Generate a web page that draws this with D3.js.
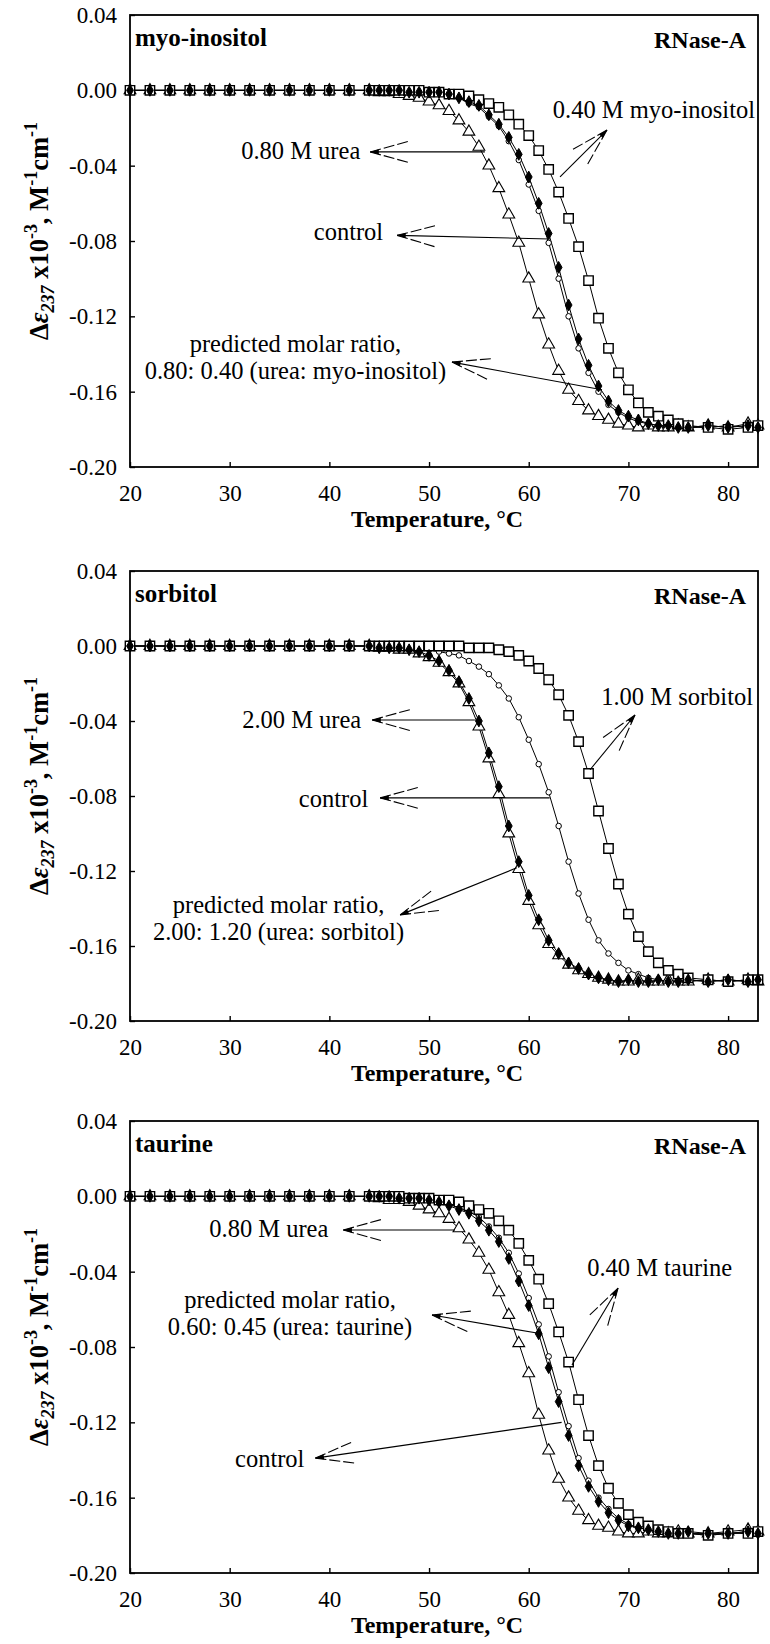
<!DOCTYPE html>
<html><head><meta charset="utf-8">
<script src="https://cdn.jsdelivr.net/npm/d3@7"></script>
<style>
body{margin:0;background:#fff}
svg{display:block}
text{font-family:"Liberation Serif","Times New Roman",serif;fill:#000}
</style>
</head><body>
<svg id="chart" width="770" height="1644"></svg>
<script>
// ---------- data ----------
const temps = [20,22,24,26,28,30,32,34,36,38,40,42,44,
  45,46,47,48,49,50,51,52,53,54,55,56,57,58,59,60,61,62,63,64,65,66,67,68,69,70,71,72,73,74,75,76,
  78,80,82,83];

// panel 1: myo-inositol
const myoControl = [0,0,0,0,0,0,0,0,0,0,0,0,0,
  0.000,0.000,-0.001,-0.001,-0.001,-0.001,-0.002,-0.003,-0.004,-0.007,-0.009,-0.014,-0.019,-0.027,-0.037,-0.050,-0.064,-0.081,-0.100,-0.120,-0.137,-0.150,-0.160,-0.167,-0.171,-0.174,-0.176,-0.177,-0.178,-0.179,-0.178,-0.179,
  -0.179,-0.178,-0.179,-0.178];
const myoUrea = [0,0,0,0,0,0,0,0,0,0,0,0,0,
  -0.001,-0.001,-0.002,-0.003,-0.004,-0.006,-0.008,-0.011,-0.016,-0.022,-0.030,-0.040,-0.052,-0.066,-0.081,-0.100,-0.119,-0.135,-0.149,-0.159,-0.165,-0.170,-0.173,-0.175,-0.177,-0.178,-0.179,-0.178,-0.179,-0.179,-0.178,-0.179,
  -0.178,-0.179,-0.177,-0.178];
const myoOsmolyte = [0,0,0,0,0,0,0,0,0,0,0,0,0,
  0.000,0.000,0.000,0.000,0.000,-0.001,-0.001,-0.002,-0.002,-0.003,-0.005,-0.007,-0.009,-0.013,-0.018,-0.024,-0.032,-0.042,-0.054,-0.068,-0.083,-0.101,-0.121,-0.137,-0.150,-0.159,-0.166,-0.171,-0.173,-0.175,-0.177,-0.178,
  -0.179,-0.180,-0.179,-0.178];
const myoPredicted = [0,0,0,0,0,0,0,0,0,0,0,0,0,
  0.000,0.000,0.000,-0.001,-0.001,-0.001,-0.001,-0.002,-0.004,-0.006,-0.008,-0.013,-0.018,-0.025,-0.034,-0.046,-0.060,-0.076,-0.094,-0.114,-0.132,-0.146,-0.157,-0.165,-0.170,-0.173,-0.175,-0.177,-0.178,-0.178,-0.179,-0.179,
  -0.178,-0.179,-0.178,-0.179];

// panel 2: sorbitol
const sorControl = [0,0,0,0,0,0,0,0,0,0,0,0,0,
  0.000,0.000,-0.001,-0.001,-0.001,-0.002,-0.003,-0.004,-0.005,-0.008,-0.011,-0.015,-0.021,-0.028,-0.038,-0.050,-0.063,-0.078,-0.096,-0.115,-0.132,-0.146,-0.157,-0.164,-0.169,-0.173,-0.175,-0.177,-0.178,-0.179,-0.179,-0.178,
  -0.179,-0.178,-0.179,-0.178];
const sorUrea = [0,0,0,0,0,0,0,0,0,0,0,0,0,
  -0.001,-0.001,-0.002,-0.002,-0.004,-0.006,-0.009,-0.014,-0.020,-0.030,-0.043,-0.060,-0.079,-0.100,-0.119,-0.136,-0.149,-0.159,-0.165,-0.170,-0.173,-0.175,-0.177,-0.178,-0.179,-0.179,-0.178,-0.179,-0.179,-0.178,-0.179,-0.179,
  -0.178,-0.179,-0.178,-0.179];
const sorOsmolyte = [0,0,0,0,0,0,0,0,0,0,0,0,0,
  0.000,0.000,0.000,0.000,0.000,0.000,0.000,0.000,0.000,-0.001,-0.001,-0.001,-0.002,-0.003,-0.005,-0.008,-0.012,-0.018,-0.026,-0.037,-0.051,-0.068,-0.088,-0.108,-0.127,-0.143,-0.155,-0.163,-0.169,-0.173,-0.175,-0.177,
  -0.178,-0.179,-0.178,-0.178];
const sorPredicted = [0,0,0,0,0,0,0,0,0,0,0,0,0,
  -0.001,-0.001,-0.001,-0.002,-0.003,-0.005,-0.008,-0.013,-0.019,-0.028,-0.040,-0.057,-0.075,-0.096,-0.115,-0.133,-0.146,-0.157,-0.164,-0.169,-0.172,-0.175,-0.177,-0.178,-0.179,-0.178,-0.179,-0.179,-0.178,-0.179,-0.179,-0.178,
  -0.179,-0.178,-0.179,-0.178];

// panel 3: taurine
const tauControl = [0,0,0,0,0,0,0,0,0,0,0,0,0,
  0.000,0.000,-0.001,-0.001,-0.001,-0.002,-0.003,-0.004,-0.006,-0.008,-0.011,-0.016,-0.022,-0.030,-0.041,-0.054,-0.068,-0.085,-0.104,-0.122,-0.139,-0.151,-0.160,-0.166,-0.171,-0.174,-0.176,-0.177,-0.178,-0.179,-0.178,-0.179,
  -0.180,-0.179,-0.178,-0.179];
const tauUrea = [0,0,0,0,0,0,0,0,0,0,0,0,0,
  -0.001,-0.002,-0.002,-0.003,-0.005,-0.007,-0.009,-0.012,-0.017,-0.023,-0.030,-0.039,-0.051,-0.063,-0.078,-0.094,-0.116,-0.135,-0.150,-0.160,-0.167,-0.172,-0.175,-0.176,-0.178,-0.179,-0.179,-0.178,-0.179,-0.179,-0.178,-0.179,
  -0.179,-0.178,-0.177,-0.178];
const tauOsmolyte = [0,0,0,0,0,0,0,0,0,0,0,0,0,
  0.000,0.000,0.000,-0.001,-0.001,-0.001,-0.002,-0.002,-0.003,-0.005,-0.007,-0.009,-0.013,-0.018,-0.025,-0.034,-0.044,-0.057,-0.072,-0.088,-0.108,-0.127,-0.143,-0.155,-0.163,-0.169,-0.173,-0.175,-0.177,-0.178,-0.179,-0.179,
  -0.180,-0.179,-0.179,-0.178];
const tauPredicted = [0,0,0,0,0,0,0,0,0,0,0,0,0,
  0.000,0.000,-0.001,-0.001,-0.001,-0.002,-0.003,-0.005,-0.007,-0.009,-0.013,-0.018,-0.024,-0.033,-0.045,-0.058,-0.073,-0.091,-0.109,-0.127,-0.143,-0.154,-0.162,-0.168,-0.172,-0.175,-0.176,-0.177,-0.178,-0.179,-0.179,-0.178,
  -0.179,-0.179,-0.178,-0.179];

const xTicks = [20,30,40,50,60,70,80];
const yTicks = [0.04,0.00,-0.04,-0.08,-0.12,-0.16,-0.20];
const panelNames = ["myo-inositol","sorbitol","taurine"];
const proteinName = "RNase-A";
const xTitle = "Temperature, \u00B0C";

// annotations: text lines, text position (data units), arrow tip/tail (data units)
const annotations = [
  [
    {lines:["0.80 M urea"], anchor:"end", at:[43.1,-0.0365], tip:[44.1,-0.0327], tail:[55.6,-0.0327]},
    {lines:["control"], anchor:"end", at:[45.4,-0.0795], tip:[46.8,-0.0770], tail:[62.1,-0.0789]},
    {lines:["0.40 M myo-inositol"], anchor:"end", at:[82.7,-0.0147], tip:[67.85,-0.0211], tail:[63.14,-0.0460]},
    {lines:["predicted molar ratio,","0.80: 0.40 (urea: myo-inositol)"], anchor:"middle", at:[36.6,-0.1390], tip:[52.3,-0.1443], tail:[67.35,-0.1590]}
  ],
  [
    {lines:["2.00 M urea"], anchor:"end", at:[43.2,-0.0437], tip:[44.3,-0.0395], tail:[54.6,-0.0395]},
    {lines:["control"], anchor:"end", at:[43.9,-0.0858], tip:[45.1,-0.0810], tail:[62.1,-0.0810]},
    {lines:["1.00 M sorbitol"], anchor:"end", at:[82.5,-0.0314], tip:[70.66,-0.0368], tail:[66.15,-0.0660]},
    {lines:["predicted molar ratio,","2.00: 1.20 (urea: sorbitol)"], anchor:"middle", at:[34.9,-0.1423], tip:[47.1,-0.1434], tail:[58.8,-0.1183]}
  ],
  [
    {lines:["0.80 M urea"], anchor:"end", at:[39.9,-0.0216], tip:[41.4,-0.0179], tail:[52.6,-0.0179]},
    {lines:["predicted molar ratio,","0.60: 0.45 (urea: taurine)"], anchor:"middle", at:[36.05,-0.0593], tip:[50.3,-0.0630], tail:[60.83,-0.0726]},
    {lines:["0.40 M taurine"], anchor:"end", at:[80.4,-0.0423], tip:[68.96,-0.0487], tail:[64.34,-0.0896]},
    {lines:["control"], anchor:"end", at:[37.5,-0.1437], tip:[38.6,-0.1390], tail:[63.3,-0.1200]}
  ]
];

// ---------- layout ----------
const panelTops = [15, 571, 1121];
const panelHeights = [452, 450, 452];
const left = 130, right = 758;

const svg = d3.select("#chart");
const seriesSets = [
  [myoControl, myoUrea, myoOsmolyte, myoPredicted],
  [sorControl, sorUrea, sorOsmolyte, sorPredicted],
  [tauControl, tauUrea, tauOsmolyte, tauPredicted]
];
const markerStyles = [
  {type:d3.symbolCircle, size:24, fill:"#fff", sw:1},
  {type:d3.symbolTriangle, size:60, fill:"#fff", sw:1.1},
  {type:d3.symbolSquare, size:88, fill:"#fff", sw:1.4},
  {type:d3.symbolDiamond, size:40, fill:"#000", sw:1}
];

panelTops.forEach((top, i) => {
  const h = panelHeights[i];
  const x = d3.scaleLinear().domain([20,83]).range([left,right]);
  const y = d3.scaleLinear().domain([-0.20,0.04]).range([top+h, top]);
  const g = svg.append("g");

  // axes
  const ya = g.append("g").attr("transform",`translate(${left},0)`)
    .call(d3.axisLeft(y).tickValues(yTicks).tickFormat(d=>d.toFixed(2)).tickSizeInner(-5).tickSizeOuter(0).tickPadding(13));
  const xa = g.append("g").attr("transform",`translate(0,${top+h})`)
    .call(d3.axisBottom(x).tickValues(xTicks).tickFormat(d=>d).tickSizeInner(-5).tickSizeOuter(0).tickPadding(18));
  [ya,xa].forEach(a=>{
    a.select(".domain").remove();
    a.selectAll("line").attr("stroke","#000").attr("stroke-width",1.4);
    a.selectAll("text").style("font-size","23px").style("font-family",'"Liberation Serif","Times New Roman",serif').attr("fill","#000");
  });

  // frame
  g.append("rect").attr("x",left).attr("y",top).attr("width",right-left).attr("height",h)
    .attr("fill","none").attr("stroke","#000").attr("stroke-width",1.8);

  // series
  const line = d3.line().x(d=>x(d[0])).y(d=>y(d[1]));
  seriesSets[i].forEach((vals, s) => {
    const pts = temps.map((t,k)=>[t, vals[k]]);
    g.append("path").datum(pts).attr("d",line).attr("fill","none").attr("stroke","#000").attr("stroke-width",1);
  });
  seriesSets[i].forEach((vals, s) => {
    const pts = temps.map((t,k)=>[t, vals[k]]);
    const st = markerStyles[s];
    g.selectAll(null).data(pts).enter().append("path")
      .attr("transform",d=>`translate(${x(d[0])},${y(d[1])})`)
      .attr("d", d3.symbol().type(st.type).size(st.size)())
      .attr("fill", st.fill).attr("stroke","#000").attr("stroke-width", st.sw);
  });

  // panel labels
  g.append("text").attr("x",left+5).attr("y",top+31).style("font-size","25px").style("font-weight","bold").text(panelNames[i]);
  g.append("text").attr("x",746).attr("y",top+33).attr("text-anchor","end").style("font-size","24px").style("font-weight","bold").text(proteinName);

  // annotations
  annotations[i].forEach(a => {
    const t = g.append("text").attr("text-anchor",a.anchor).style("font-size","24.5px");
    a.lines.forEach((ln,k)=>{
      t.append("tspan").attr("x",x(a.at[0])).attr("y",y(a.at[1])+k*27).text(ln);
    });
    const x1=x(a.tip[0]), y1=y(a.tip[1]), x2=x(a.tail[0]), y2=y(a.tail[1]);
    g.append("line").attr("x1",x1).attr("y1",y1).attr("x2",x2).attr("y2",y2).attr("stroke","#000").attr("stroke-width",1.1);
    const ang = Math.atan2(y2-y1, x2-x1), L=40, th=0.27;
    [-th, th].forEach(dt=>{
      g.append("line").attr("x1",x1).attr("y1",y1)
        .attr("x2",x1+L*Math.cos(ang+dt)).attr("y2",y1+L*Math.sin(ang+dt))
        .attr("stroke","#000").attr("stroke-width",1.1).attr("stroke-dasharray","11,3");
    });
    const tl=9, tw=0.3;
    g.append("path").attr("d",`M${x1},${y1}L${x1+tl*Math.cos(ang+tw)},${y1+tl*Math.sin(ang+tw)}L${x1+tl*Math.cos(ang-tw)},${y1+tl*Math.sin(ang-tw)}Z`).attr("fill","#000");
  });

  // axis titles
  g.append("text").attr("x",437).attr("y",top+h+60).attr("text-anchor","middle")
    .style("font-size","24px").style("font-weight","bold").text(xTitle);

  const yl = g.append("text").attr("transform",`translate(48,${top+h/2-10}) rotate(-90)`)
    .attr("text-anchor","middle").style("font-size","26.5px").style("font-weight","bold");
  yl.append("tspan").text("\u0394");
  yl.append("tspan").style("font-style","italic").text("\u03B5");
  yl.append("tspan").style("font-style","italic").style("font-size","18px").attr("dy",6).text("237");
  yl.append("tspan").attr("dy",-6).text(" x10");
  yl.append("tspan").style("font-size","18px").attr("dy",-11).text("-3");
  yl.append("tspan").attr("dy",11).text(", M");
  yl.append("tspan").style("font-size","18px").attr("dy",-11).text("-1");
  yl.append("tspan").attr("dy",11).text("cm");
  yl.append("tspan").style("font-size","18px").attr("dy",-11).text("-1");
});
</script>
</body></html>
